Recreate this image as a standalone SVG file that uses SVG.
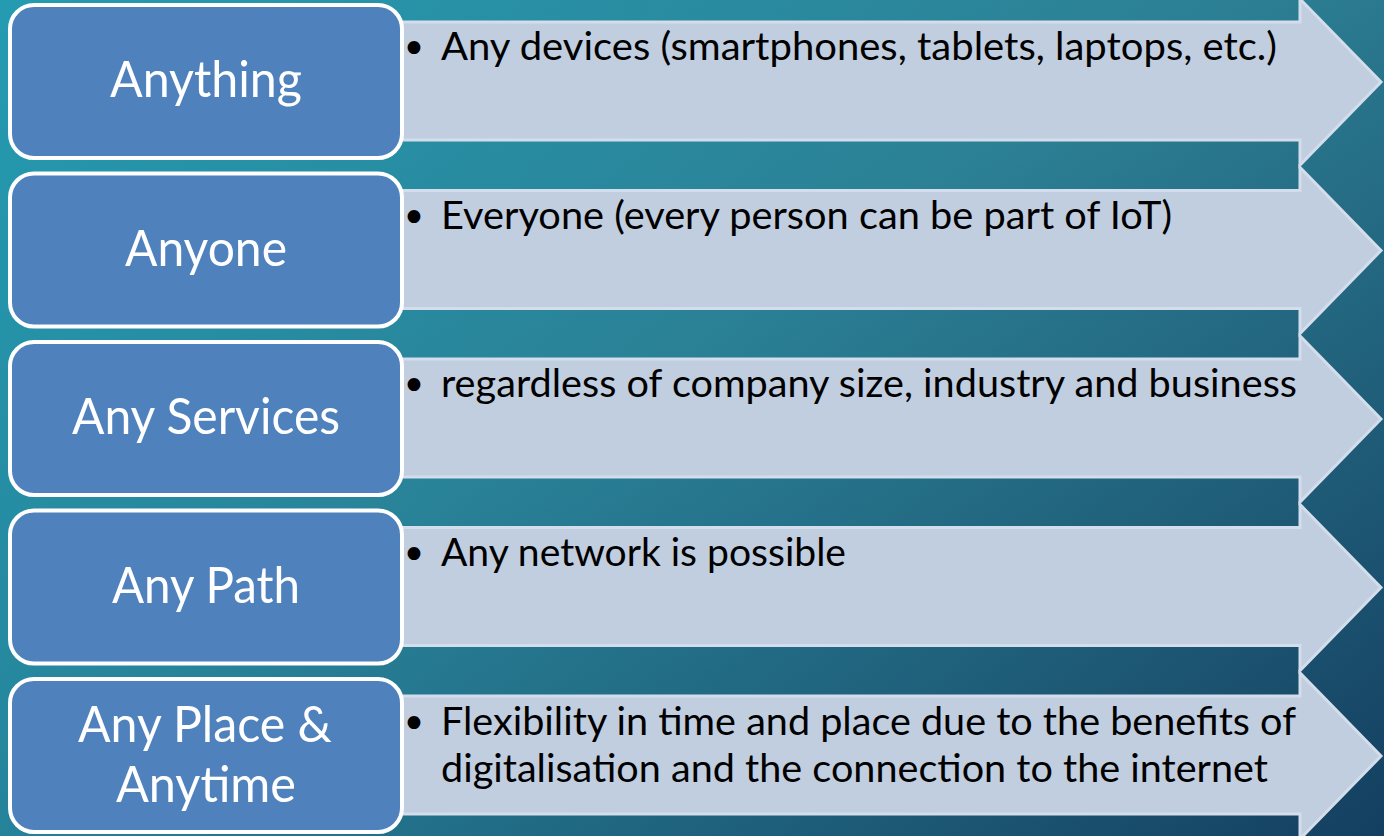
<svg xmlns="http://www.w3.org/2000/svg" width="1384" height="836" viewBox="0 0 1384 836">
  <defs>
    <linearGradient id="bg" x1="0" y1="0" x2="1" y2="1">
      <stop offset="0" stop-color="#27A2B6"/>
      <stop offset="0.45" stop-color="#2A8297"/>
      <stop offset="1" stop-color="#0D365A"/>
    </linearGradient>
    <linearGradient id="bg2" x1="0" y1="0" x2="1" y2="0">
      <stop offset="0" stop-color="#1E8FA8" stop-opacity="0.35"/>
      <stop offset="1" stop-color="#3A6F80" stop-opacity="0.15"/>
    </linearGradient>
    <path id="arrow" d="M380,22 H1300 V-1 L1381,82 L1300,165 V140 H380 Z"/>
  </defs>
  <style>
    .arr { fill: #C1CEDF; stroke: #D3DDEB; stroke-width: 3; }
    .box { fill: #4F81BD; stroke: #FFFFFF; stroke-width: 4; }
    .lbl { font-family: Lato, "Open Sans", "Liberation Sans", sans-serif; font-size: 50px; fill: #FFFFFF; }
    .txt { font-family: Lato, "Open Sans", "Liberation Sans", sans-serif; font-size: 38px; fill: #000000; }
    .bul { font-family: "DejaVu Sans", sans-serif; font-size: 44px; fill: #000000; }
  </style>
  <rect width="1384" height="836" fill="url(#bg)"/>
  <rect width="1384" height="836" fill="url(#bg2)"/>

  <g id="connectors">
    <use href="#arrow" class="arr" transform="translate(0,0)"/>
    <use href="#arrow" class="arr" transform="translate(0,168.5)"/>
    <use href="#arrow" class="arr" transform="translate(0,337)"/>
    <use href="#arrow" class="arr" transform="translate(0,505.5)"/>
    <use href="#arrow" class="arr" transform="translate(0,674)"/>
  </g>

  <g id="node-anything">
    <rect class="box" x="10" y="5" width="392" height="153" rx="24"/>
    <text class="lbl" x="206" y="97" text-anchor="middle" textLength="192" lengthAdjust="spacingAndGlyphs">Anything</text>
    <text class="bul" x="401" y="64">•</text>
    <text class="txt" x="441" y="60" textLength="836" lengthAdjust="spacingAndGlyphs">Any devices (smartphones, tablets, laptops, etc.)</text>
  </g>

  <g id="node-anyone">
    <rect class="box" x="10" y="173.5" width="392" height="153" rx="24"/>
    <text class="lbl" x="206" y="265.5" text-anchor="middle" textLength="162" lengthAdjust="spacingAndGlyphs">Anyone</text>
    <text class="bul" x="401" y="232.5">•</text>
    <text class="txt" x="441" y="228.5" textLength="731" lengthAdjust="spacingAndGlyphs">Everyone (every person can be part of IoT)</text>
  </g>

  <g id="node-any-services">
    <rect class="box" x="10" y="342" width="392" height="153" rx="24"/>
    <text class="lbl" x="206" y="434" text-anchor="middle" textLength="268" lengthAdjust="spacingAndGlyphs">Any Services</text>
    <text class="bul" x="401" y="401">•</text>
    <text class="txt" x="441" y="397" textLength="856" lengthAdjust="spacingAndGlyphs">regardless of company size, industry and business</text>
  </g>

  <g id="node-any-path">
    <rect class="box" x="10" y="510.5" width="392" height="153" rx="24"/>
    <text class="lbl" x="206" y="602.5" text-anchor="middle" textLength="188" lengthAdjust="spacingAndGlyphs">Any Path</text>
    <text class="bul" x="401" y="569.5">•</text>
    <text class="txt" x="441" y="565.5" textLength="405" lengthAdjust="spacingAndGlyphs">Any network is possible</text>
  </g>

  <g id="node-any-place">
    <rect class="box" x="10" y="679" width="392" height="153" rx="24"/>
    <text class="lbl" x="205" y="742" text-anchor="middle" textLength="254" lengthAdjust="spacingAndGlyphs">Any Place &amp;</text>
    <text class="lbl" x="206" y="802" text-anchor="middle" textLength="180" lengthAdjust="spacingAndGlyphs">Anytime</text>
    <text class="bul" x="401" y="739">•</text>
    <text class="txt" x="441" y="735" textLength="855" lengthAdjust="spacingAndGlyphs">Flexibility in time and place due to the benefits of</text>
    <text class="txt" x="441" y="782" textLength="827" lengthAdjust="spacingAndGlyphs">digitalisation and the connection to the internet</text>
  </g>
</svg>
